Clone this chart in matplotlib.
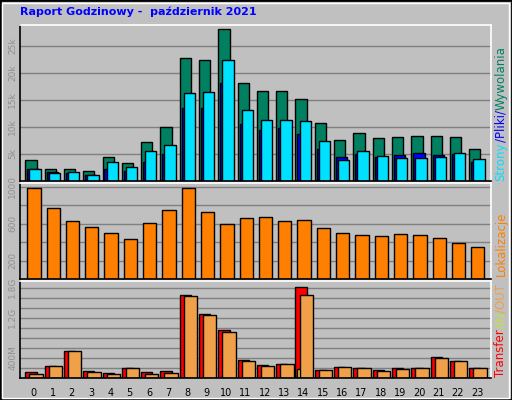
import matplotlib
matplotlib.use("Agg")
import matplotlib.pyplot as plt
import numpy as np
from matplotlib.patches import Rectangle

hours = list(range(24))
hits  = [3.8,2.3,2.3,1.8,4.4,3.3,7.2,9.9,22.7,22.3,28.1,18.1,16.6,16.6,15.1,10.7,7.5,8.8,7.9,8.1,8.3,8.3,8.1,6.0]
files = [2.3,1.4,1.6,1.05,3.6,2.5,5.5,6.6,16.2,16.4,22.3,13.1,11.2,11.2,11.0,7.3,3.8,5.5,4.7,4.2,4.2,4.4,5.1,4.0]
pages = [2.3,1.6,1.4,1.05,2.3,1.8,3.6,4.9,13.5,13.5,18.1,10.5,9.4,9.8,8.6,5.9,4.4,4.9,4.4,4.8,5.1,4.8,4.9,3.5]
sites = [989,767,633,567,500,433,611,744,989,722,600,656,667,633,644,556,500,478,467,489,478,444,389,344]
transfer = [113,247,547,133,93,207,113,133,1647,1267,947,367,267,287,1813,167,227,207,167,207,207,427,347,207]
xin = [0,0,0,0,0,0,0,0,0,0,10,0,0,0,187,0,0,0,0,0,0,0,0,0]
xout = [87,247,547,127,87,207,87,107,1627,1247,907,347,247,287,1647,167,227,207,147,187,207,407,347,207]

BG = "#c0c0c0"
fig = plt.figure(figsize=(5.12, 4.0), dpi=100, facecolor=BG)
W, H = 512, 400
fig.add_artist(Rectangle((0, 0), 1, 1, transform=fig.transFigure, fill=False, ec="black", lw=2))
fig.add_artist(Rectangle((2/W, 2/H), 1-5/W, 1-5/H, transform=fig.transFigure, fill=False, ec="white", lw=1))

def panel(top, bottom):
    ax = fig.add_axes([20/W, 1-bottom/H, 471/W, (bottom-top)/H])
    ax.set_facecolor(BG)
    ax.set_xlim(-0.275, 24.13)
    for s in ("left", "bottom"):
        ax.spines[s].set_color("black")
    for s in ("top", "right"):
        ax.spines[s].set_color("white")
    for s in ax.spines.values():
        s.set_linewidth(1.2)
    ax.set_xticks([])
    ax.tick_params(axis="y", length=0, labelsize=6.5, labelcolor="#909090", pad=2)
    ax.yaxis.grid(True, color="#808080", lw=1)
    ax.set_axisbelow(True)
    return ax

x = np.array(hours)
kw = dict(align="edge", edgecolor="black", linewidth=1)

ax1 = panel(25, 181)
ax1.bar(x, hits, width=0.585, color="#008060", **kw)
ax1.bar(x+0.1, pages, width=0.585, color="#0000ff", **kw)
ax1.bar(x+0.21, files, width=0.585, color="#00e0ff", **kw)
ax1.set_ylim(0, 28.8)
ax1.set_yticks([5, 10, 15, 20, 25])
ax1.set_yticklabels(["5k", "10k", "15k", "20k", "25k"], rotation=90, va="center")

ax2 = panel(183, 279)
ax2.bar(x+0.1, sites, width=0.69, color="#ff8000", **kw)
ax2.set_ylim(0, 1040)
ax2.set_yticks([200, 400, 600, 800, 1000])
ax2.set_yticklabels(["200", "", "600", "", "1000"], rotation=90, va="center")

ax3 = panel(281, 378)
ax3.bar(x, transfer, width=0.585, color="#ff0000", **kw)
ax3.bar(x+0.1, xin, width=0.585, color="#c0e040", **kw)
ax3.bar(x+0.21, xout, width=0.69, color="#f0a048", **kw)
ax3.set_ylim(0, 1930)
ax3.set_yticks(np.arange(200, 1900, 200))
ax3.set_yticklabels(["", "400M", "", "", "", "1.2G", "", "", "1.8G"], rotation=90, va="center")
for h in hours:
    ax3.text(h+0.41, -0.1, str(h), transform=ax3.get_xaxis_transform(),
             ha="center", va="top", fontsize=7, color="black")

fig.text(20/W, 1-12/H, "Raport Godzinowy -  październik 2021", color="#0000ff",
         fontsize=8, fontweight="bold", va="center", ha="left")

renderer = fig.canvas.get_renderer()
def vchain(ypix, parts, size=8.5):
    y = ypix
    for s, c in parts:
        t = fig.text(501/W, 1-y/H, s, color=c, rotation=90, fontsize=size, ha="center", va="bottom")
        bb = t.get_window_extent(renderer)
        y -= bb.height

vchain(181, [("Strony", "#00e0ff"), ("/Pliki/", "#0000ff"), ("Wywolania", "#008060")])
vchain(276, [("Lokalizacje", "#ff8000")])
vchain(377, [("Transfer", "#ff0000"), ("/IN", "#c0e040"), ("/OUT", "#f0a048")])

fig.savefig("out.png", dpi=100, facecolor=BG)
